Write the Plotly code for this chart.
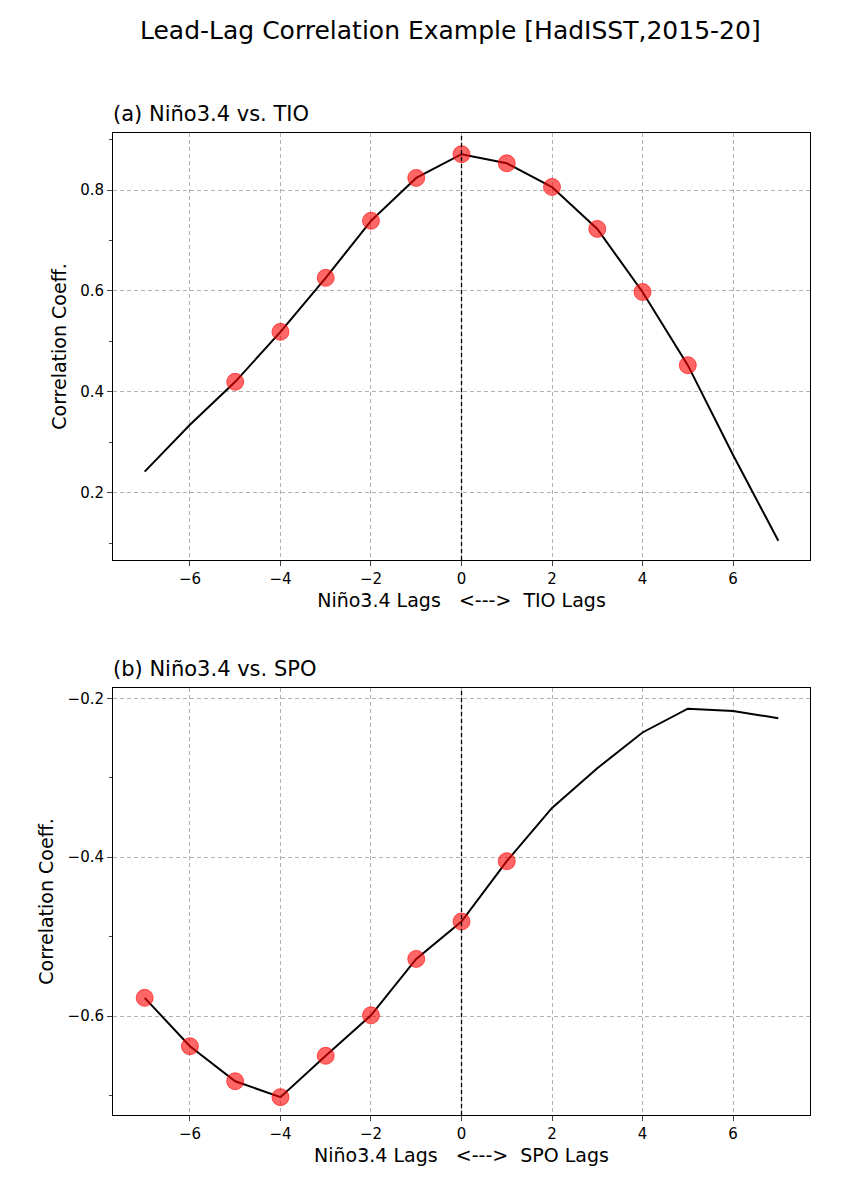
import plotly.graph_objects as go

lags = [-7,-6,-5,-4,-3,-2,-1,0,1,2,3,4,5,6,7]
corr_tio = [0.242,0.335,0.420,0.519,0.626,0.739,0.824,0.871,0.853,0.806,0.723,0.598,0.453,0.275,0.105]
sig_tio_lags = [-5,-4,-3,-2,-1,0,1,2,3,4,5]
corr_spo = [-0.577,-0.638,-0.682,-0.702,-0.650,-0.599,-0.528,-0.481,-0.405,-0.338,-0.288,-0.243,-0.213,-0.216,-0.225]
sig_spo_lags = [-7,-6,-5,-4,-3,-2,-1,0,1]

def pick(lg, vals, sel):
    return [vals[lg.index(s)] for s in sel]

W, H = 852, 1198
OFF = 8
def px(x): return (x - OFF) / W
def py(y): return 1 - (y - OFF) / H

mk = dict(color="rgba(255,0,0,0.6)", size=17, line=dict(color="rgba(255,0,0,0.6)", width=1))
fig = go.Figure()
fig.add_trace(go.Scatter(x=lags, y=corr_tio, mode="lines", line=dict(color="black", width=2), xaxis="x", yaxis="y", showlegend=False))
fig.add_trace(go.Scatter(x=sig_tio_lags, y=pick(lags, corr_tio, sig_tio_lags), mode="markers", marker=mk, xaxis="x", yaxis="y", showlegend=False))
fig.add_trace(go.Scatter(x=lags, y=corr_spo, mode="lines", line=dict(color="black", width=2), xaxis="x2", yaxis="y2", showlegend=False))
fig.add_trace(go.Scatter(x=sig_spo_lags, y=pick(lags, corr_spo, sig_spo_lags), mode="markers", marker=mk, xaxis="x2", yaxis="y2", showlegend=False))

ax = dict(showline=True, mirror=True, linecolor="black", linewidth=1, ticks="outside", ticklen=5,
          showgrid=True, gridcolor="#b0b0b0", griddash="4px,3px", gridwidth=1, zeroline=False,
          tickfont=dict(size=15, color="black"))
xcommon = dict(ax, range=[-7.7, 7.7], tickvals=[-6,-4,-2,0,2,4,6], ticktext=["−6","−4","−2","0","2","4","6"],
               domain=[px(113), px(810)])
fig.update_layout(
    width=W, height=H, margin=dict(l=0, r=0, t=0, b=0),
    plot_bgcolor="white", paper_bgcolor="white",
    font=dict(family="DejaVu Sans", color="black"),
    xaxis=dict(xcommon, anchor="y", title=dict(text="Niño3.4 Lags   <--->  TIO Lags", font=dict(size=19), standoff=6)),
    yaxis=dict(ax, domain=[py(560), py(133)], range=[0.067, 0.913], tickvals=[0.2,0.4,0.6,0.8],
               minor=dict(tickvals=[0.1,0.3,0.5,0.7,0.9], ticks="outside", ticklen=3, showgrid=False),
               title=dict(text="Correlation Coeff.", font=dict(size=19), standoff=8), anchor="x"),
    xaxis2=dict(xcommon, anchor="y2", title=dict(text="Niño3.4 Lags   <--->  SPO Lags", font=dict(size=19), standoff=6)),
    yaxis2=dict(ax, domain=[py(1115), py(688)], range=[-0.7245, -0.187], tickvals=[-0.6,-0.4,-0.2],
                ticktext=["−0.6","−0.4","−0.2"],
                minor=dict(tickvals=[-0.7,-0.5,-0.3], ticks="outside", ticklen=3, showgrid=False),
                title=dict(text="Correlation Coeff.", font=dict(size=19), standoff=8), anchor="x2"),
    shapes=[
        dict(type="line", xref="x", yref="y domain", x0=0, x1=0, y0=0, y1=1, line=dict(color="black", width=1.3, dash="4px,3px")),
        dict(type="line", xref="x2", yref="y2 domain", x0=0, x1=0, y0=0, y1=1, line=dict(color="black", width=1.3, dash="4px,3px")),
    ],
    annotations=[
        dict(text="Lead-Lag Correlation Example [HadISST,2015-20]", x=px(450), y=py(30), xref="paper", yref="paper",
             showarrow=False, font=dict(size=25), xanchor="center", yanchor="middle"),
        dict(text="(a) Niño3.4 vs. TIO", x=px(111), y=py(114), xref="paper", yref="paper",
             showarrow=False, font=dict(size=21), xanchor="left", yanchor="middle"),
        dict(text="(b) Niño3.4 vs. SPO", x=px(111), y=py(669), xref="paper", yref="paper",
             showarrow=False, font=dict(size=21), xanchor="left", yanchor="middle"),
    ],
)
fig.write_html("out.html")
